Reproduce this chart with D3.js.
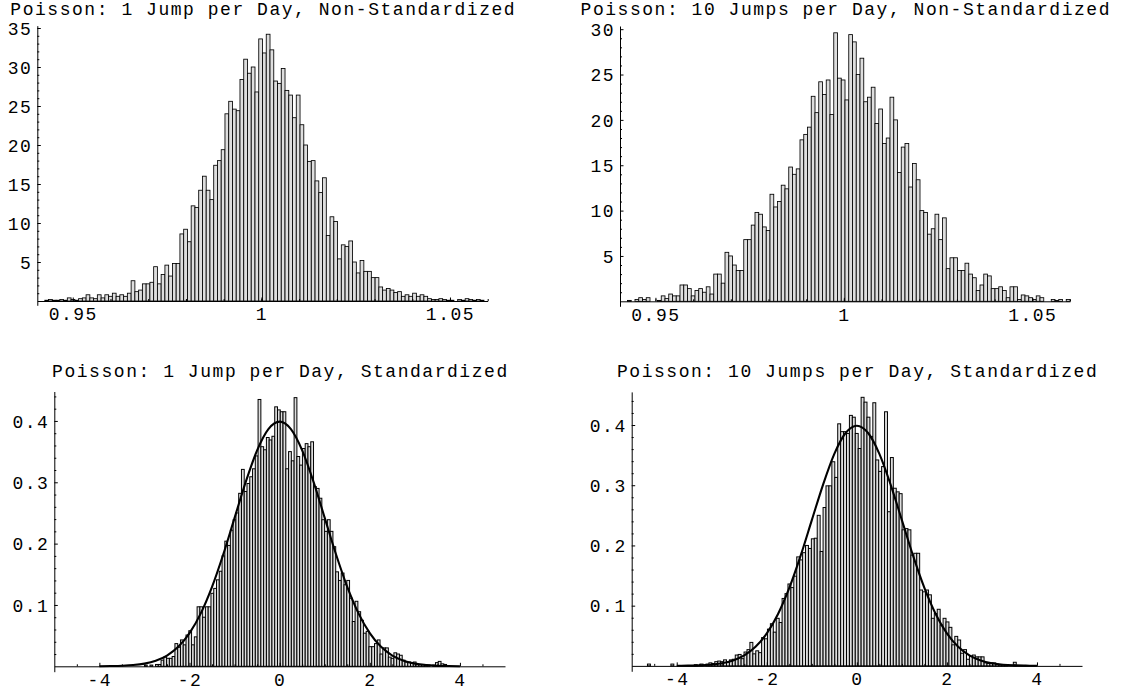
<!DOCTYPE html>
<html><head><meta charset="utf-8">
<script src="https://cdn.jsdelivr.net/npm/d3@7"></script>
<style>
html,body{margin:0;padding:0;background:#fff;}
svg text{font-family:"Liberation Mono","Courier New",monospace;fill:#000;}
</style></head><body>
<svg id="chart" width="1127" height="691"></svg>
<script>
// ---------------- DATA ----------------
const titles = [
  "Poisson: 1 Jump per Day, Non-Standardized",
  "Poisson: 10 Jumps per Day, Non-Standardized",
  "Poisson: 1 Jump per Day, Standardized",
  "Poisson: 10 Jumps per Day, Standardized"
];

// Non-standardized histograms: 120 bins starting at rawBinStart
const rawBinStart = 0.9406;
const rawBinWidth = 0.000995;
const jump1Raw = [
  0,0,0.1,0.2,0.1,0.1,0.2,0.1,0.4,0.2, 0.1,0.3,0.4,0.8,0.4,0.3,0.8,0.4,0.8,0.6,
  1.0,0.6,0.8,0.6,1.0,2.6,1.2,1.4,2.2,2.2, 2.4,4.4,2.2,3.4,4.6,3.2,4.8,4.8,8.6,9.2,
  7.6,12.2,12.0,14.2,16.0,14.2,13.0,17.4,18.0,19.4, 24.0,25.6,24.6,24.4,28.4,31.0,29.2,30.0,26.8,33.6,
  31.8,34.2,32.2,28.2,27.9,29.8,27.0,26.4,23.5,26.4, 22.6,20.0,17.9,18.0,15.4,13.9,15.8,8.4,10.8,10.2,
  5.4,7.2,7.0,7.7,5.0,3.6,5.2,3.8,3.8,3.0, 3.0,1.8,1.4,1.6,1.4,1.1,1.2,0.6,0.8,0.6,
  1.0,0.6,0.8,0.6,0.3,0.2,0.2,0.3,0.2,0.1, 0.1,0,0.2,0.1,0.3,0.2,0.1,0.2,0.1,0
];
const jump10Raw = [
  0,0,0.1,0,0.2,0.4,0.2,0.4,0,0, 0.1,0.6,0.3,0.8,0.6,0.6,1.8,1.8,1.4,0.6,
  1.2,1.4,1.0,1.6,0.8,3.0,3.0,2.0,5.4,5.0, 4.0,3.4,3.4,6.8,6.8,8.4,9.8,9.6,8.2,7.8,
  11.8,10.4,11.0,12.8,12.4,14.8,14.0,14.6,17.8,18.4, 19.2,22.6,20.8,24.2,22.8,24.4,20.6,29.6,24.6,24.4,
  22.2,29.4,28.6,25.0,26.8,22.0,22.5,23.6,19.6,21.2, 17.4,18.0,22.5,20.0,14.2,17.0,17.4,12.6,15.2,13.4,
  10.0,9.8,7.4,8.0,9.6,6.8,9.2,3.6,4.8,4.8, 3.4,3.4,4.2,3.0,2.6,1.2,1.8,3.0,2.8,1.4,
  1.4,1.6,1.2,0.4,1.6,1.6,0.2,0.7,0.6,0.4, 0.2,0.6,0.4,0,0,0.2,0.1,0.2,0,0.2
];

// Standardized histograms
const std1BinStart = -3.0;
const std1BinWidth = 0.0615;
const jump1Std = [
  0.002,0,0.002,0,0.003,0.003,0.010,0.015,0.013,0.013,
  0.016,0.037,0.031,0.043,0.035,0.051,0.058,0.035,0.048,0.097,
  0.097,0.080,0.097,0.097,0.119,0.127,0.141,0.155,0.180,0.204,
  0.197,0.222,0.239,0.250,0.282,0.321,0.285,0.298,0.309,0.322,
  0.343,0.435,0.358,0.353,0.373,0.369,0.375,0.423,0.418,0.415,
  0.415,0.322,0.350,0.335,0.438,0.342,0.328,0.355,0.363,0.358,
  0.366,0.293,0.290,0.274,0.239,0.220,0.239,0.220,0.195,0.154,
  0.140,0.152,0.133,0.140,0.111,0.073,0.106,0.089,0.075,0.054,
  0.057,0.032,0.032,0.037,0.043,0.020,0.030,0.030,0.015,0.013,
  0.022,0.020,0.018,0.010,0.007,0.007,0.005,0.007,0.003,0.003,
  0.003,0.002,0.002,0,0.002,0.006,0.008,0.004,0.003,0.001
];
const std10BinStart = -4.78;
const std10BinWidth = 0.065;
const jump10Std = [
  0,0,0.003,0,0,0,0,0,0,0,
  0.003,0,0,0,0,0,0,0,
  0.002,0,0.003,0,0.003,0.005,0.004,0.007,0.008,0.007,0.010,0.006,0.010,
  0.011,0.018,0.019,0.012,0.023,0.027,0.039,0.020,0.025,0.022,0.047,0.045,0.061,0.070,
  0.056,0.079,0.072,0.112,0.120,0.136,0.130,0.149,0.181,0.176,0.188,0.200,0.195,0.211,
  0.212,0.250,0.190,0.263,0.299,0.299,0.339,0.313,0.402,0.389,
  0.389,0.386,0.416,0.413,0.386,0.361,0.446,0.438,0.413,0.381,
  0.437,0.342,0.323,0.331,0.422,0.256,0.346,0.295,0.289,0.286,
  0.226,0.228,0.226,0.184,0.187,0.187,0.126,0.123,0.126,0.118,
  0.079,0.087,0.094,0.068,0.079,0.073,0.064,0.035,0.049,0.043,
  0.021,0.027,0.011,0.016,0.018,0.015,0.015,0.015,0.005,0.004,
  0.005,0.005,0.003,0.002,0.002,0.002,0,0,0.006
];

// Standard normal density curve overlaid on the standardized panels
const normalX = [-4,-3.75,-3.5,-3.25,-3,-2.75,-2.5,-2.25,-2,-1.75,-1.5,-1.25,-1,-0.75,-0.5,-0.25,0,
                 0.25,0.5,0.75,1,1.25,1.5,1.75,2,2.25,2.5,2.75,3,3.25,3.5,3.75,4];
const normalY = [0.0001,0.0004,0.0009,0.0020,0.0044,0.0091,0.0175,0.0317,0.0540,0.0863,0.1295,0.1826,0.2420,0.3011,0.3521,0.3867,0.3989,
                 0.3867,0.3521,0.3011,0.2420,0.1826,0.1295,0.0863,0.0540,0.0317,0.0175,0.0091,0.0044,0.0020,0.0009,0.0004,0.0001];

// Ticks
const rawXTicks = [0.95, 1, 1.05];
const rawXTickLabels = ["0.95", "1", "1.05"];
const rawXMinor = [0.95,0.96,0.97,0.98,0.99,1.00,1.01,1.02,1.03,1.04,1.05,1.06];
const raw1YTicks = [5,10,15,20,25,30,35];
const raw10YTicks = [5,10,15,20,25,30];
const stdXTicks = [-4,-2,0,2,4];
const stdXMinor = [-4.5,-3.5,-3,-2.5,-1.5,-1,-0.5,0.5,1,1.5,2.5,3,3.5,4.5];
const stdYTicks = [0.1,0.2,0.3,0.4];
const stdYTickLabels = ["0.1","0.2","0.3","0.4"];
const stdYMinor = [0.02,0.04,0.06,0.08,0.12,0.14,0.16,0.18,0.22,0.24,0.26,0.28,0.32,0.34,0.36,0.38,0.42,0.44];

// ---------------- LAYOUT ----------------
const panels = [
  {title: titles[0], values: jump1Raw, start: rawBinStart, width: rawBinWidth,
   xDomain: [0.9406, 1.0600], xRange: [37.3, 487.7],
   yDomain: [-0.55, 35.3], yRange: [305.3, 25.66],
   xTicks: rawXTicks, xLabels: rawXTickLabels, xMinor: rawXMinor,
   yTicks: raw1YTicks, yLabels: raw1YTicks.map(String), yMinor: d3.range(1, 36).filter(v => v % 5),
   titleY: 14.5, curve: false, stroke: 0.85},
  {title: titles[1], values: jump10Raw, start: rawBinStart, width: rawBinWidth,
   xDomain: [0.9406, 1.0600], xRange: [620, 1070],
   yDomain: [-0.55, 30.35], yRange: [306.3, 26.0],
   xTicks: rawXTicks, xLabels: rawXTickLabels, xMinor: rawXMinor,
   yTicks: raw10YTicks, yLabels: raw10YTicks.map(String), yMinor: d3.range(1, 31).filter(v => v % 5),
   titleY: 14.5, curve: false, stroke: 0.85},
  {title: titles[2], values: jump1Std, start: std1BinStart, width: std1BinWidth,
   xDomain: [-5, 5], xRange: [54.3, 505],
   yDomain: [-0.0088, 0.448], yRange: [671.7, 391.5],
   xTicks: stdXTicks, xLabels: stdXTicks.map(String), xMinor: stdXMinor,
   yTicks: stdYTicks, yLabels: stdYTickLabels, yMinor: stdYMinor,
   titleY: 377, curve: true, stroke: 1},
  {title: titles[3], values: jump10Std, start: std10BinStart, width: std10BinWidth,
   xDomain: [-5, 5], xRange: [631.7, 1082],
   yDomain: [-0.009, 0.455], yRange: [671.3, 391.9],
   xTicks: stdXTicks, xLabels: stdXTicks.map(String), xMinor: stdXMinor,
   yTicks: stdYTicks, yLabels: stdYTickLabels, yMinor: stdYMinor,
   titleY: 377, curve: true, stroke: 1}
];

const svg = d3.select("#chart");
const FONT = 18, CHARW = 12.3;

panels.forEach(p => {
  const x = d3.scaleLinear().domain(p.xDomain).range(p.xRange);
  const y = d3.scaleLinear().domain(p.yDomain).range(p.yRange);
  const g = svg.append("g");

  // bars
  const bins = p.values.map((v, i) => ({x0: p.start + i * p.width, x1: p.start + (i + 1) * p.width, v}))
                       .filter(d => d.v > 0);
  g.append("g").selectAll("rect").data(bins).join("rect")
    .attr("x", d => x(d.x0))
    .attr("width", d => x(d.x1) - x(d.x0))
    .attr("y", d => y(d.v))
    .attr("height", d => y(0) - y(d.v))
    .attr("fill", "#dedede")
    .attr("stroke", "#000")
    .attr("stroke-width", p.stroke);

  // normal curve
  if (p.curve) {
    const line = d3.line().x(d => x(d[0])).y(d => y(d[1])).curve(d3.curveMonotoneX);
    g.append("path").datum(normalX.map((v, i) => [v, normalY[i]]))
      .attr("d", line).attr("fill", "none").attr("stroke", "#000").attr("stroke-width", 2.1);
  }

  // x axis (at y = 0)
  const xAxis = d3.axisBottom(x).tickValues(p.xTicks)
    .tickFormat((d, i) => p.xLabels[i]).tickSize(-3.5).tickSizeOuter(0).tickPadding(6.5);
  const gx = g.append("g").attr("transform", `translate(0,${y(0)})`).call(xAxis);
  const xMinorAxis = d3.axisBottom(x).tickValues(p.xMinor.filter(v => v >= p.xDomain[0] && v <= p.xDomain[1]))
    .tickFormat("").tickSize(-2).tickSizeOuter(0);
  const gxm = g.append("g").attr("transform", `translate(0,${y(0)})`).call(xMinorAxis);
  gxm.select(".domain").remove();

  // y axis (at left edge)
  const yAxis = d3.axisLeft(y).tickValues(p.yTicks)
    .tickFormat((d, i) => p.yLabels[i]).tickSize(-3.5).tickSizeOuter(0).tickPadding(5);
  const gy = g.append("g").attr("transform", `translate(${p.xRange[0]},0)`).call(yAxis);
  const yMinorAxis = d3.axisLeft(y).tickValues(p.yMinor).tickFormat("").tickSize(-2).tickSizeOuter(0);
  const gym = g.append("g").attr("transform", `translate(${p.xRange[0]},0)`).call(yMinorAxis);
  gym.select(".domain").remove();

  [gx, gxm, gy, gym].forEach(a => {
    a.attr("font-family", null).attr("font-size", null);
    a.selectAll("path,line").attr("stroke", "#000").attr("stroke-width", 1);
    a.selectAll("text").style("font-size", FONT + "px").style("letter-spacing", "1.5px");
  });
  gy.selectAll("text").attr("dy", "0.35em");

  // title
  const cx = (p.xRange[0] + p.xRange[1]) / 2;
  g.append("text").attr("x", cx).attr("y", p.titleY)
    .attr("text-anchor", "middle").style("font-size", FONT + "px")
    .attr("textLength", p.title.length * CHARW).attr("lengthAdjust", "spacing")
    .text(p.title);
});
</script>
</body></html>
